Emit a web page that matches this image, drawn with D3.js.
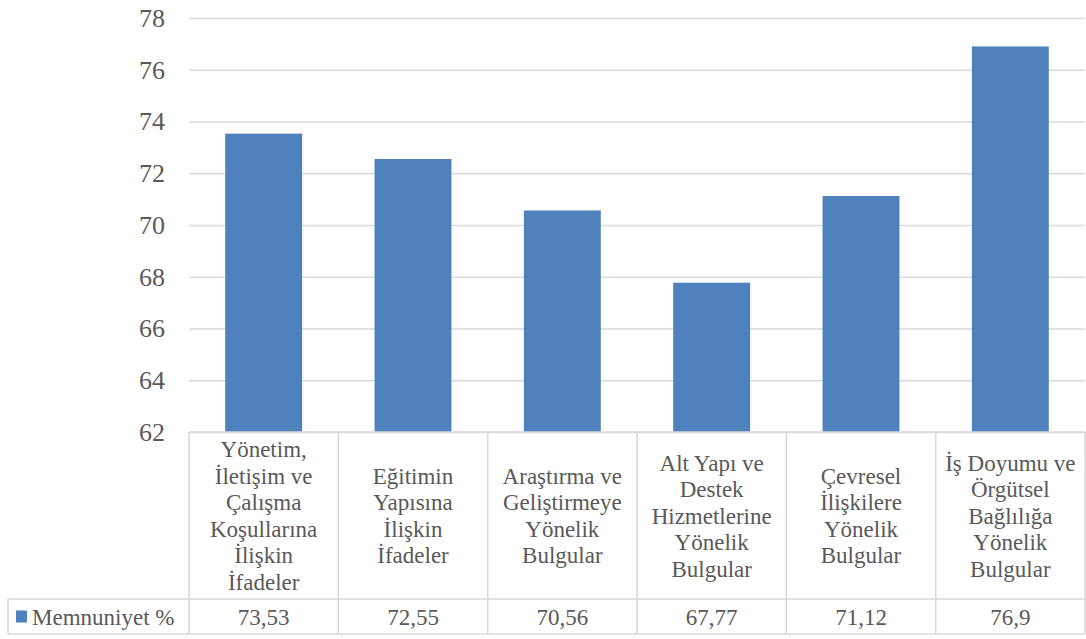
<!DOCTYPE html>
<html>
<head>
<meta charset="utf-8">
<script src="https://cdn.jsdelivr.net/npm/d3@7"></script>
</head>
<body style="margin:0;background:#fff">
<svg id="chart" width="1086" height="639"></svg>
<script>
"use strict";
// category labels, already broken into lines as in the table header
const categories = [
  ["Yönetim,", "İletişim ve", "Çalışma", "Koşullarına", "İlişkin", "İfadeler"],
  ["Eğitimin", "Yapısına", "İlişkin", "İfadeler"],
  ["Araştırma ve", "Geliştirmeye", "Yönelik", "Bulgular"],
  ["Alt Yapı ve", "Destek", "Hizmetlerine", "Yönelik", "Bulgular"],
  ["Çevresel", "İlişkilere", "Yönelik", "Bulgular"],
  ["İş Doyumu ve", "Örgütsel", "Bağlılığa", "Yönelik", "Bulgular"]
];
const values = [73.53, 72.55, 70.56, 67.77, 71.12, 76.9];
const seriesName = "Memnuniyet %";
const yTicks = [62, 64, 66, 68, 70, 72, 74, 76, 78];

const svg = d3.select("#chart");
const plotLeft = 189, plotRight = 1085, plotTop = 18, plotBottom = 432;
const headerBottom = 599, tableBottom = 634, legendLeft = 8;
const grid = "#d9d9d9", blue = "#4f81bd", ink = "#595959";
const fontName = "Liberation Serif";

// every text gets the serif face forced inline
function serifText(sel, size) {
  return sel.style("font-family", fontName, "important")
    .style("font-size", size + "px", "important")
    .style("fill", ink, "important");
}

const idx = categories.map((c, i) => i);
const cell = d3.scaleBand().domain(idx).range([plotLeft, plotRight]);
const x = d3.scaleBand().domain(idx).range([plotLeft, plotRight]).paddingInner(0.485).paddingOuter(0.2425);
const y = d3.scaleLinear().domain([62, 78]).range([plotBottom, plotTop]);

// gridlines + tick labels
const yAxis = svg.append("g").attr("transform", `translate(${plotLeft},0)`)
  .call(d3.axisLeft(y).tickValues(yTicks).tickSize(-(plotRight - plotLeft)).tickPadding(24).tickFormat(d3.format("d")));
yAxis.attr("font-family", null).attr("font-size", null);
yAxis.select(".domain").remove();
yAxis.selectAll(".tick line").attr("stroke", grid).attr("stroke-width", 1.3);
serifText(yAxis.selectAll(".tick text"), 26);

// bars
svg.append("g").selectAll("rect").data(values).join("rect")
  .attr("x", (d, i) => x(i))
  .attr("width", x.bandwidth())
  .attr("y", d => y(d))
  .attr("height", d => y(62) - y(d))
  .attr("fill", blue);

// data table
const tbl = svg.append("g").attr("stroke", grid).attr("stroke-width", 1.6).attr("fill", "none");
tbl.append("line").attr("x1", plotLeft).attr("x2", plotRight).attr("y1", plotBottom).attr("y2", plotBottom);
tbl.append("line").attr("x1", legendLeft).attr("x2", plotRight).attr("y1", headerBottom).attr("y2", headerBottom);
tbl.append("line").attr("x1", legendLeft).attr("x2", plotRight).attr("y1", tableBottom).attr("y2", tableBottom);
tbl.append("line").attr("x1", legendLeft).attr("x2", legendLeft).attr("y1", headerBottom).attr("y2", tableBottom);
tbl.selectAll("line.v").data(idx.concat([categories.length])).join("line").attr("class", "v")
  .attr("x1", i => i < categories.length ? cell(i) : plotRight)
  .attr("x2", i => i < categories.length ? cell(i) : plotRight)
  .attr("y1", plotBottom).attr("y2", tableBottom);

// header labels, vertically centred in the header row
const lineH = 26.5;
const mid = (plotBottom + headerBottom) / 2;
const heads = svg.append("g").selectAll("text").data(categories).join("text")
  .attr("text-anchor", "middle")
  .each(function(lines, i) {
    const t = d3.select(this);
    const y0 = mid - (lines.length - 1) * lineH / 2;
    lines.forEach((s, k) => {
      t.append("tspan").attr("x", cell(i) + cell.bandwidth() / 2)
        .attr("y", y0 + k * lineH).attr("dy", "0.35em").text(s);
    });
  });
serifText(heads, 23);
serifText(heads.selectAll("tspan"), 23);

// value row
const rowMid = (headerBottom + tableBottom) / 2;
const vals = svg.append("g").selectAll("text").data(values).join("text")
  .attr("text-anchor", "middle")
  .attr("x", (d, i) => cell(i) + cell.bandwidth() / 2)
  .attr("y", rowMid).attr("dy", "0.35em")
  .text(d => String(d).replace(".", ","));
serifText(vals, 23);

// legend key
svg.append("rect").attr("x", 16).attr("y", rowMid - 6).attr("width", 11).attr("height", 12).attr("fill", blue);
serifText(svg.append("text").attr("x", 32).attr("y", rowMid).attr("dy", "0.35em").text(seriesName), 23);
</script>
</body>
</html>
